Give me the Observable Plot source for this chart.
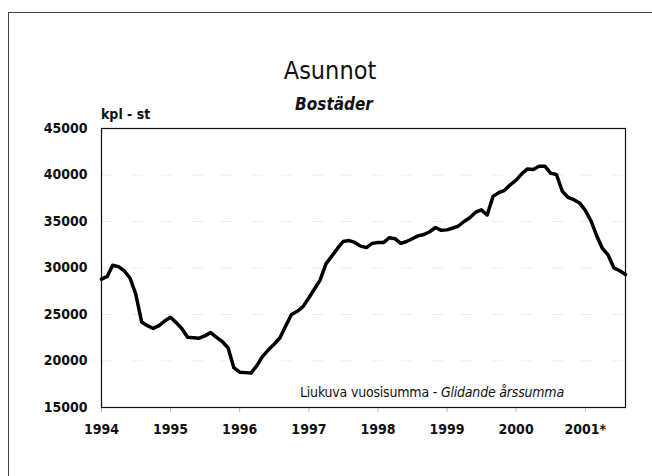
<!DOCTYPE html>
<html>
<head>
<meta charset="utf-8">
<script src="https://cdn.jsdelivr.net/npm/d3@7"></script>
<script src="https://cdn.jsdelivr.net/npm/@observablehq/plot@0.6"></script>
<style>
  body { margin: 0; background: #fff; overflow: hidden; }
  #wrap { position: relative; width: 652px; height: 476px; overflow: hidden; background: #fff;
          font-family: "Liberation Sans Narrow", "DejaVu Sans Condensed", "Arial Narrow", sans-serif; }
  #border { position: absolute; left: 8px; top: 12px; width: 700px; height: 500px;
            border-left: 1px solid #444; border-top: 1px solid #444; }
  .t { position: absolute; white-space: nowrap; color: #111; }
  #title { left: 0; width: 660px; text-align: center; top: 56px; font-size: 25px; }
  #subtitle { left: 0; width: 668px; text-align: center; top: 94px; font-size: 17px; font-style: italic; font-weight: bold; }
  #unit { left: 101px; top: 106px; font-size: 14px; font-weight: bold; }
  #note { left: 300px; top: 384px; font-size: 14px; letter-spacing: -0.2px; }
  #chart { position: absolute; left: 0; top: 0; }
</style>
</head>
<body>
<div id="wrap">
  <div id="border"></div>
  <div id="chart"></div>
  <div class="t" id="title">Asunnot</div>
  <div class="t" id="subtitle">Bostäder</div>
  <div class="t" id="unit">kpl - st</div>
  <div class="t" id="note">Liukuva vuosisumma - <i>Glidande årssumma</i></div>
</div>
<script>
// Monthly moving annual sum, Jan 1994 – Aug 2001
const startYear = 1994;
const values = [
  28800, 29100, 30300, 30150, 29700, 28900, 27200, 24200, 23800, 23500, 23800, 24300,
  24700, 24100, 23500, 22550, 22500, 22450, 22700, 23050, 22550, 22100, 21400, 19300,
  18800, 18750, 18700, 19500, 20500, 21200, 21800, 22500, 23800, 25000, 25350, 25850,
  26800, 27800, 28700, 30450, 31250, 32100, 32850, 32950, 32750, 32350, 32200, 32650,
  32750, 32750, 33250, 33150, 32650, 32850, 33150, 33450, 33600, 33900, 34350, 34050,
  34100, 34300, 34500, 35000, 35400, 36000, 36250, 35700, 37700, 38100, 38350, 38950,
  39450, 40150, 40650, 40600, 40950, 40950, 40200, 40050, 38250, 37600, 37350, 37000,
  36200, 35000, 33500, 32100, 31400, 30000, 29700, 29300
];
const yearTicks = [1994, 1995, 1996, 1997, 1998, 1999, 2000, 2001];
const yearLabels = ["1994", "1995", "1996", "1997", "1998", "1999", "2000", "2001*"];
const yTicks = [15000, 20000, 25000, 30000, 35000, 40000, 45000];
const gridTicks = [20000, 25000, 30000, 35000, 40000];

const data = values.map((v, i) => ({date: new Date(Date.UTC(startYear, i, 1)), value: v}));
const tickDates = yearTicks.map(y => new Date(Date.UTC(y, 0, 1)));
const labelOf = new Map(tickDates.map((d, i) => [+d, yearLabels[i]]));

const font = '"Liberation Sans Narrow", "DejaVu Sans Condensed", "Arial Narrow", sans-serif';

const chart = Plot.plot({
  width: 652,
  height: 476,
  marginLeft: 101,
  marginRight: 27,
  marginTop: 128,
  marginBottom: 69,
  style: {fontFamily: font, fontSize: "14px", fontWeight: "bold", color: "#111", background: "transparent"},
  x: {type: "utc", domain: [data[0].date, data[data.length - 1].date]},
  y: {domain: [15000, 45000]},
  marks: [
    Plot.ruleY(gridTicks, {stroke: "#ececec", strokeWidth: 1, strokeDasharray: "12,18"}),
    Plot.axisY({ticks: yTicks, tickSize: 0, tickPadding: 14, tickFormat: d => String(d), label: null, fontSize: 14}),
    Plot.axisX({ticks: tickDates, tickSize: 5, tickPadding: 12, stroke: "#bbb",
                tickFormat: d => labelOf.get(+d), label: null, fontSize: 14}),
    Plot.frame({stroke: "#111", strokeWidth: 1.2}),
    Plot.lineY(data, {x: "date", y: "value", stroke: "#000", strokeWidth: 3.5, strokeLinejoin: "round", strokeLinecap: "round"})
  ]
});
document.getElementById("chart").appendChild(chart);
</script>
</body>
</html>
